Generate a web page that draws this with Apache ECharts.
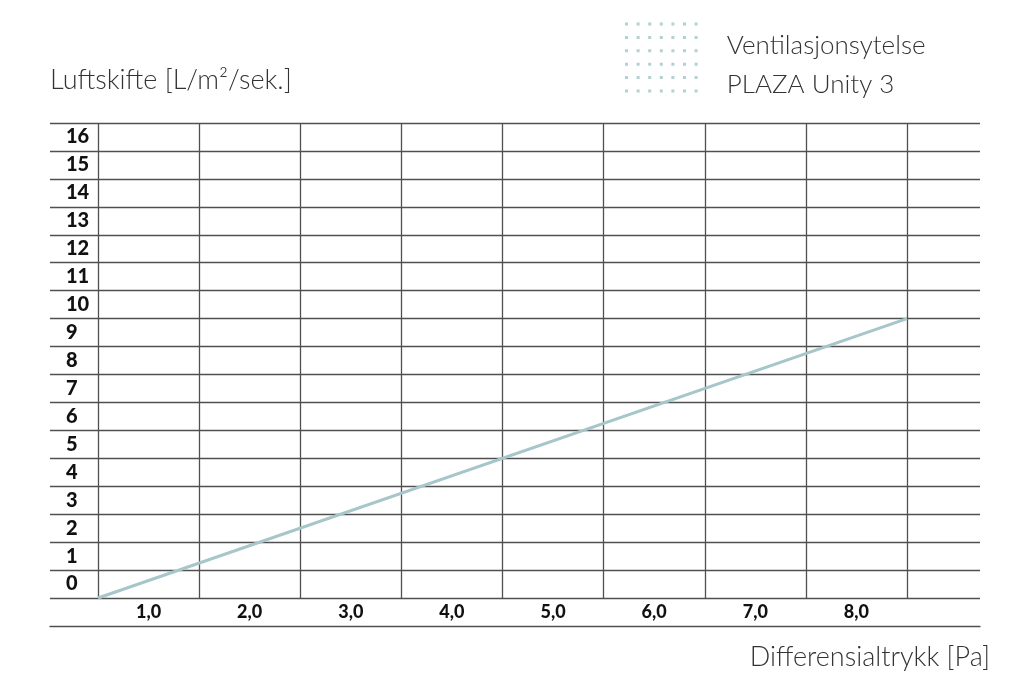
<!DOCTYPE html>
<html>
<head>
<meta charset="utf-8">
<script src="https://cdn.jsdelivr.net/npm/echarts@6/dist/echarts.min.js"></script>
<style>
html,body{margin:0;padding:0;background:#fff;}
#chart{width:1032px;height:693px;}
</style>
</head>
<body>
<div id="chart"></div>
<script>
// Category labels
const yLabels = ['0','1','2','3','4','5','6','7','8','9','10','11','12','13','14','15','16'];
const xLabels = ['1,0','2,0','3,0','4,0','5,0','6,0','7,0','8,0'];
// Line series (read in label units: column/row centres are the labels)
const pressure = [0.5, 8.5];
const airflow = [-0.5, 9.5];
const seriesName = 'Ventilasjonsytelse\nPLAZA Unity 3';

// dotted legend icon (7 x 6 dots)
let iconPath = 'path://';
for (let r = 0; r < 6; r++) {
  for (let c = 0; c < 7; c++) {
    const x = c * 11.6, y = r * 13.4;
    iconPath += 'M' + x + ' ' + y + 'h3v3h-3z';
  }
}

const gridColor = '#505050';
const font = 'Lato, "Noto Sans", sans-serif';

const chart = echarts.init(document.getElementById('chart'), null, {renderer: 'canvas'});
chart.setOption({
  animation: false,
  backgroundColor: '#ffffff',
  legend: {
    left: 625, top: 11, padding: 0,
    itemWidth: 73, itemHeight: 70,
    icon: iconPath,
    itemStyle: {color: '#b3d0d3'},
    data: [seriesName],
    formatter: function (name) {
      return '{g|}\n' + name.split('\n').map(function (s) { return '{t|' + s + '}'; }).join('\n');
    },
    textStyle: {
      fontFamily: font, fontWeight: 300, fontSize: 26, color: '#333', padding: [0, 0, 0, 24],
      rich: {
        g: {height: 15, lineHeight: 15, fontSize: 10},
        t: {fontFamily: font, fontWeight: 300, fontSize: 26, color: '#333', lineHeight: 39}
      }
    }
  },
  grid: [
    {left: 50, right: 52, top: 123, bottom: 95},
    {left: 98, width: 809, top: 123, bottom: 95}
  ],
  xAxis: [
    {
      gridIndex: 0, type: 'value', min: 0, max: 1,
      offset: 28,
      axisLine: {show: true, lineStyle: {color: gridColor, width: 1.3}},
      axisTick: {show: false}, axisLabel: {show: false}, splitLine: {show: false},
      name: 'Differensialtrykk [Pa]', nameLocation: 'end', nameGap: 10,
      nameTextStyle: {fontFamily: font, fontWeight: 300, fontSize: 27, color: '#333',
        align: 'right', verticalAlign: 'top', padding: [18, 0, 0, 0]}
    },
    {
      gridIndex: 1, type: 'category', data: xLabels, boundaryGap: true,
      axisLine: {show: false}, axisTick: {show: false},
      axisLabel: {fontFamily: font, fontWeight: 900, fontSize: 18, color: '#111', margin: 5},
      splitLine: {show: true, showMinLine: true, showMaxLine: true, lineStyle: {color: gridColor, width: 1.3}}
    },
    {gridIndex: 1, type: 'value', min: 0.5, max: 8.5, show: false}
  ],
  yAxis: [
    {
      gridIndex: 0, type: 'category', data: yLabels, boundaryGap: true,
      axisLine: {show: false}, axisTick: {show: false},
      axisLabel: {inside: true, margin: 16, fontFamily: font, fontWeight: 900, fontSize: 20, color: '#111'},
      splitLine: {show: true, showMinLine: true, showMaxLine: true, lineStyle: {color: gridColor, width: 1.3}},
      name: 'Luftskifte [L/m²/sek.]', nameLocation: 'end', nameGap: 43,
      nameTextStyle: {fontFamily: font, fontWeight: 300, fontSize: 27, color: '#333',
        align: 'left', verticalAlign: 'middle'}
    },
    {gridIndex: 1, type: 'value', min: -0.5, max: 16.5, show: false}
  ],
  series: [{
    name: seriesName,
    type: 'line',
    xAxisIndex: 2, yAxisIndex: 1,
    data: pressure.map((p, i) => [p, airflow[i]]),
    symbol: 'none',
    lineStyle: {color: '#a6c6ca', width: 3},
    itemStyle: {color: '#a6c6ca'},
    z: 5
  }]
});
</script>
</body>
</html>
